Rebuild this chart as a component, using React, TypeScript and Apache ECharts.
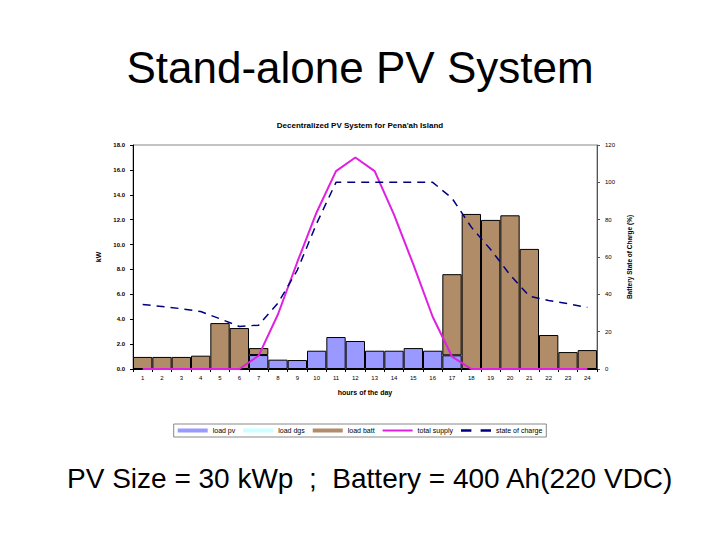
import React, { useEffect, useRef } from "react";
import * as echarts from "echarts";

const hours = ["1","2","3","4","5","6","7","8","9","10","11","12","13","14","15","16","17","18","19","20","21","22","23","24"];
const loadPv = [null,null,null,null,null,null,1.12,0.75,0.72,1.47,2.57,2.25,1.47,1.47,1.68,1.47,1.1,null,null,null,null,null,null,null];
const loadDgs = [null,null,null,null,null,null,null,null,null,null,null,null,null,null,null,null,null,null,null,null,null,null,null,null];
const loadBatt = [0.97,0.97,0.97,1.07,3.69,3.29,0.56,null,null,null,null,null,null,null,null,null,6.52,12.46,11.98,12.35,9.65,2.73,1.36,1.52];
const totalSupply = [0,0,0,0,0,0,1.07,4.4,8.6,12.6,15.9,17.0,15.9,12.4,8.4,4.2,1.0,0,0,0,0,0,0,0];
const stateOfCharge = [34.6,33.5,32.3,30.8,26.9,22.8,23.5,35.3,53,78,100,100,100,100,100,100,91.5,76,64,50.5,39,36.7,35,33];

const font = "Liberation Sans, Arial, sans-serif";
const solidIcon = "path://M0,0 L30,0 L30,2 L0,2 Z";
const dashIcon = "path://M0,0 L9,0 L9,2 L0,2 Z M17,0 L26,0 L26,2 L17,2 Z";

export default function App() {
  const ref = useRef<HTMLDivElement>(null);
  useEffect(() => {
    const chart = echarts.init(ref.current!, null, { renderer: "svg" });
    chart.setOption({
      animation: false,
      backgroundColor: "#fff",
      textStyle: { fontFamily: font },
      title: [
        { text: "Stand-alone PV System", left: "center", top: 40, textStyle: { fontSize: 44, fontWeight: "normal", color: "#000", fontFamily: font } },
        { text: "Decentralized PV System for Pena'ah Island", left: "center", top: 116, textStyle: { fontSize: 8, fontWeight: "bold", color: "#000", fontFamily: font } },
        { text: "PV Size = 30 kWp  ;  Battery = 400 Ah(220 VDC)", left: 62, top: 459, textStyle: { fontSize: 28, fontWeight: "normal", color: "#000", fontFamily: font } },
      ],
      grid: { left: 133, right: 123, top: 145, bottom: 171, show: true, borderColor: "#888", borderWidth: 1 },
      legend: {
        top: 424, left: "center",
        borderColor: "#888", borderWidth: 1, padding: [3, 4],
        itemWidth: 30, itemHeight: 4, itemGap: 8,
        itemStyle: { borderWidth: 0 },
        textStyle: { fontSize: 7, color: "#000", fontFamily: font },
        data: [
          { name: "load pv", icon: "rect" },
          { name: "load dgs", icon: "rect" },
          { name: "load batt", icon: "rect" },
          { name: "total supply", icon: solidIcon },
          { name: "state of charge", icon: dashIcon },
        ],
      },
      xAxis: {
        type: "category", data: hours,
        name: "hours of the day", nameLocation: "middle", nameGap: 20,
        nameTextStyle: { fontSize: 7, fontWeight: "bold", color: "#000" },
        axisLine: { lineStyle: { color: "#000" } },
        axisTick: { show: true, lineStyle: { color: "#000" }, length: 3 },
        axisLabel: { fontSize: 6, color: "#000", margin: 6 },
      },
      yAxis: [
        {
          type: "value", min: 0, max: 18, interval: 2,
          name: "kW", nameLocation: "middle", nameGap: 31, nameRotate: 90,
          nameTextStyle: { fontSize: 7, fontWeight: "bold", color: "#000" },
          axisLine: { show: true, lineStyle: { color: "#000" } },
          axisTick: { show: true, length: 3, lineStyle: { color: "#000" } },
          axisLabel: { fontSize: 6, color: "#000", fontWeight: "bold", formatter: (v: number) => v.toFixed(1) },
          splitLine: { show: false },
        },
        {
          type: "value", min: 0, max: 120, interval: 20, position: "right",
          name: "Battery State of Charge (%)", nameLocation: "middle", nameGap: 17, nameRotate: 90,
          nameTextStyle: { fontSize: 6.5, fontWeight: "bold", color: "#000" },
          axisLine: { show: true, lineStyle: { color: "#555" } },
          axisTick: { show: true, length: 3, lineStyle: { color: "#555" } },
          axisLabel: { fontSize: 6, color: "#000" },
          splitLine: { show: false },
        },
      ],
      series: [
        { name: "load pv", type: "bar", stack: "load", data: loadPv, barCategoryGap: 0, itemStyle: { color: "#9999FF", borderColor: "#000", borderWidth: 1 } },
        { name: "load dgs", type: "bar", stack: "load", data: loadDgs, itemStyle: { color: "#CCFFFF", borderColor: "#000", borderWidth: 0 } },
        { name: "load batt", type: "bar", stack: "load", data: loadBatt, barCategoryGap: 0, itemStyle: { color: "#B08C68", borderColor: "#000", borderWidth: 1 } },
        { name: "total supply", type: "line", data: totalSupply, symbol: "none", lineStyle: { color: "#E020E0", width: 2 }, itemStyle: { color: "#E020E0" } },
        { name: "state of charge", type: "line", yAxisIndex: 1, data: stateOfCharge, symbol: "none", lineStyle: { color: "#000080", width: 1.5, type: [8, 6] }, itemStyle: { color: "#000080" } },
      ],
    });
    return () => chart.dispose();
  }, []);
  return <div ref={ref} style={{ width: 720, height: 540, margin: -8 }} />;
}
